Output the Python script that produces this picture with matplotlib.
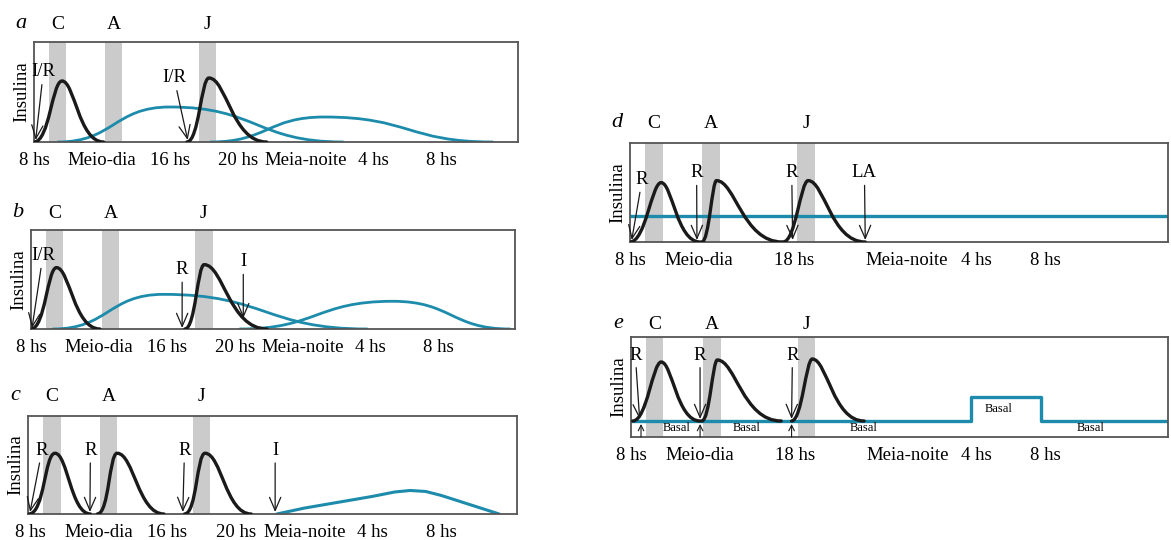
import matplotlib
matplotlib.use("Agg")
import matplotlib.pyplot as plt
from matplotlib.path import Path
from matplotlib.patches import PathPatch

plt.rcParams['font.family'] = ['Liberation Serif', 'DejaVu Serif']

# ---- data (x in clock hours, continuing past midnight; y = insulin, 0..1 of the box) ----
meal_names = ['C', 'A', 'J']

# meal bands (start, end)
bands_a = [(8.9, 9.9), (12.2, 13.2), (17.7, 18.7)]
bands_b = [(8.88, 9.88), (12.2, 13.2), (17.65, 18.7)]
bands_c = [(8.73, 9.78), (12.06, 13.06), (17.5, 18.5)]
bands_d = [(8.87, 9.9), (12.16, 13.2), (17.65, 18.7)]
bands_e = [(8.87, 9.85), (12.16, 13.2), (17.65, 18.64)]

# rapid insulin peaks (start, peak time, peak level, end)
rapid_a = [(8.0, 9.65, 0.61, 12.1), (17.0, 18.3, 0.64, 21.7)]
rapid_b = [(8.0, 9.5, 0.62, 12.06), (17.06, 18.2, 0.65, 21.9)]
rapid_c = [(7.9, 9.43, 0.62, 11.5), (11.9, 13.06, 0.62, 15.8), (17.0, 18.2, 0.62, 20.9)]
rapid_d = [(8.0, 9.8, 0.60, 12.05), (12.15, 13.0, 0.62, 16.8), (16.85, 18.3, 0.62, 21.6)]
rapid_e = [(8.1, 9.75, 0.75, 12.0), (12.1, 13.0, 0.77, 16.7), (17.3, 18.5, 0.78, 21.5)]

# intermediate insulin curves (start, peak time, peak level, end)
nph_a = [(9.4, 16.0, 0.35, 26.2), (18.4, 25.1, 0.25, 35.0)]
nph_b = [(9.3, 15.8, 0.35, 27.8), (20.3, 29.3, 0.28, 36.2)]
nph_c_x = [22.4, 24.0, 26.0, 28.0, 29.3, 30.2, 31.1, 32.0, 33.7, 35.4]
nph_c_y = [0.0, 0.06, 0.12, 0.18, 0.225, 0.24, 0.23, 0.19, 0.095, 0.0]

# long acting (d) and pump basal (e)
la_level_d = 0.26
basal_x_e = [8.0, 27.7, 27.7, 31.75, 31.75, 39.1]
basal_y_e = [0.16, 0.16, 0.40, 0.40, 0.16, 0.16]
basal_text_e = [(10.66, 0.09), (14.7, 0.09), (21.5, 0.09), (29.3, 0.28), (34.6, 0.09)]
bolus_marks_e = [8.58, 12.0, 17.3]

# arrows (label, label x, label y, tip x, tip y)
arrows_a = [('I/R', 8.55, 0.70, 8.1, 0.02), ('I/R', 16.25, 0.64, 17.05, 0.02)]
arrows_b = [('I/R', 8.7, 0.74, 8.06, 0.01), ('R', 16.9, 0.60, 16.9, 0.01), ('I', 20.5, 0.68, 20.5, 0.11)]
arrows_c = [('R', 8.67, 0.65, 7.97, 0.02), ('R', 11.5, 0.65, 11.47, 0.02),
            ('R', 17.0, 0.65, 16.9, 0.02), ('I', 22.3, 0.65, 22.3, 0.02)]
arrows_d = [('R', 8.7, 0.63, 8.1, 0.02), ('R', 11.85, 0.70, 11.87, 0.02),
            ('R', 17.35, 0.70, 17.4, 0.02), ('LA', 21.55, 0.70, 21.6, 0.02)]
arrows_e = [('R', 8.25, 0.82, 8.5, 0.18), ('R', 12.0, 0.82, 12.0, 0.18), ('R', 17.35, 0.82, 17.3, 0.18)]

# axis ticks and labels
ticks_left = [12, 16, 20, 24, 28, 32]
labels_left_pos = [8, 12, 16, 20, 24, 28, 32]
labels_left = ['8 hs', 'Meio-dia', '16 hs', '20 hs', 'Meia-noite', '4 hs', '8 hs']
ticks_right = [24, 28, 32]
labels_right_pos = [8, 12, 17.5, 24, 28, 32]
labels_right = ['8 hs', 'Meio-dia', '18 hs', 'Meia-noite', '4 hs', '8 hs']

BLUE = '#1d8bab'
BLACK = '#1a1a1a'
GRAY = '#cbcbcb'
EDGE = '#555555'


def curve(ax, start, tpeak, level, end, base, color, lw, rise=(0.55, 0.35), fall=(0.3, 0.6), z=3):
    dr = tpeak - start
    df = end - tpeak
    verts = [(start, base),
             (start + rise[0] * dr, base), (tpeak - rise[1] * dr, level), (tpeak, level),
             (tpeak + fall[0] * df, level), (end - fall[1] * df, base), (end, base)]
    codes = [Path.MOVETO] + [Path.CURVE4] * 6
    ax.add_patch(PathPatch(Path(verts, codes), fill=False, ec=color, lw=lw, zorder=z,
                           capstyle='round'))


def setup(ax, letter, bands, xlim, ticks, lab_pos, labs, gaps):
    ax.set_xlim(*xlim)
    ax.set_ylim(0, 1)
    ax.set_yticks([])
    for s in ax.spines.values():
        s.set_color(EDGE)
        s.set_linewidth(1.3)
    ax.set_xticks(lab_pos)
    ax.set_xticklabels(labs)
    ax.set_xticks(ticks, minor=True)
    ax.tick_params(which='major', length=0, labelsize=13.5, pad=7.5)
    ax.tick_params(which='minor', direction='in', length=9.5, width=1.1, color=EDGE)
    ax.set_ylabel('Insulina', fontsize=13.5, labelpad=3)
    for (b0, b1), name in zip(bands, meal_names):
        ax.axvspan(b0, b1, color=GRAY, lw=0, zorder=1)
        ax.annotate(name, xy=((b0 + b1) / 2, 1), xycoords=('data', 'axes fraction'),
                    xytext=(0, gaps), textcoords='offset pixels', ha='center', va='bottom',
                    fontsize=14)
    ax.annotate(letter, xy=(0, 1), xycoords='axes fraction', xytext=(-13, gaps),
                textcoords='offset pixels', ha='center', va='bottom', fontsize=16,
                style='italic')


def arrows(ax, items):
    for lab, lx, ly, tx, ty in items:
        ax.annotate(lab, xy=(tx, ty), xytext=(lx, ly), fontsize=13.5, ha='center', va='center',
                    arrowprops=dict(arrowstyle='->,head_length=0.7,head_width=0.3', lw=0.9,
                                    color=BLACK, shrinkA=1, shrinkB=0), zorder=5)


fig = plt.figure(figsize=(11.71, 5.40), dpi=100)
W, H = 1171, 540


def box(l, r, t, b):
    return fig.add_axes([l / W, 1 - b / H, (r - l) / W, (b - t) / H])


ax_a = box(34, 518, 42, 142)
ax_b = box(31, 515, 230, 329)
ax_c = box(28, 517, 416, 514)
ax_d = box(630, 1168, 143, 242)
ax_e = box(631, 1168, 337, 437)

setup(ax_a, 'a', bands_a, (8, 36.5), ticks_left, labels_left_pos, labels_left, 9)
setup(ax_b, 'b', bands_b, (8, 36.5), ticks_left, labels_left_pos, labels_left, 8)
setup(ax_c, 'c', bands_c, (7.85, 36.44), ticks_left, labels_left_pos, labels_left, 11)
setup(ax_d, 'd', bands_d, (8, 39.1), ticks_right, labels_right_pos, labels_right, 11)
setup(ax_e, 'e', bands_e, (8, 39.1), ticks_right, labels_right_pos, labels_right, 4)

# a
for p in nph_a:
    curve(ax_a, *p, 0, BLUE, 2.0, rise=(0.5, 0.5), fall=(0.5, 0.5), z=2)
for p in rapid_a:
    curve(ax_a, *p, 0, BLACK, 2.4)
arrows(ax_a, arrows_a)

# b
for p in nph_b:
    curve(ax_b, *p, 0, BLUE, 2.0, rise=(0.5, 0.5), fall=(0.5, 0.5), z=2)
for p in rapid_b:
    curve(ax_b, *p, 0, BLACK, 2.4)
arrows(ax_b, arrows_b)

# c
ax_c.plot(nph_c_x, nph_c_y, color=BLUE, lw=2.2, zorder=2, solid_capstyle='round')
for p in rapid_c:
    curve(ax_c, *p, 0, BLACK, 2.4, rise=(0.6, 0.4), fall=(0.35, 0.55))
arrows(ax_c, arrows_c)

# d
ax_d.axhline(la_level_d, color=BLUE, lw=2.4, zorder=2)
for p in rapid_d:
    curve(ax_d, *p, 0, BLACK, 2.4, rise=(0.5, 0.3), fall=(0.28, 0.6))
arrows(ax_d, arrows_d)

# e
ax_e.plot(basal_x_e, basal_y_e, color=BLUE, lw=2.4, zorder=2)
for p in rapid_e:
    curve(ax_e, *p, basal_y_e[0], BLACK, 2.4, rise=(0.5, 0.3), fall=(0.28, 0.6))
arrows(ax_e, arrows_e)
for bx, by in basal_text_e:
    ax_e.text(bx, by, 'Basal', fontsize=9, ha='center', va='center', zorder=4)
for bx in bolus_marks_e:
    ax_e.annotate('', xy=(bx, 0.13), xytext=(bx, 0.0),
                  arrowprops=dict(arrowstyle='->,head_length=0.4,head_width=0.2', lw=0.8,
                                  color=BLACK, shrinkA=0, shrinkB=0))

fig.savefig('out.png', dpi=100)
